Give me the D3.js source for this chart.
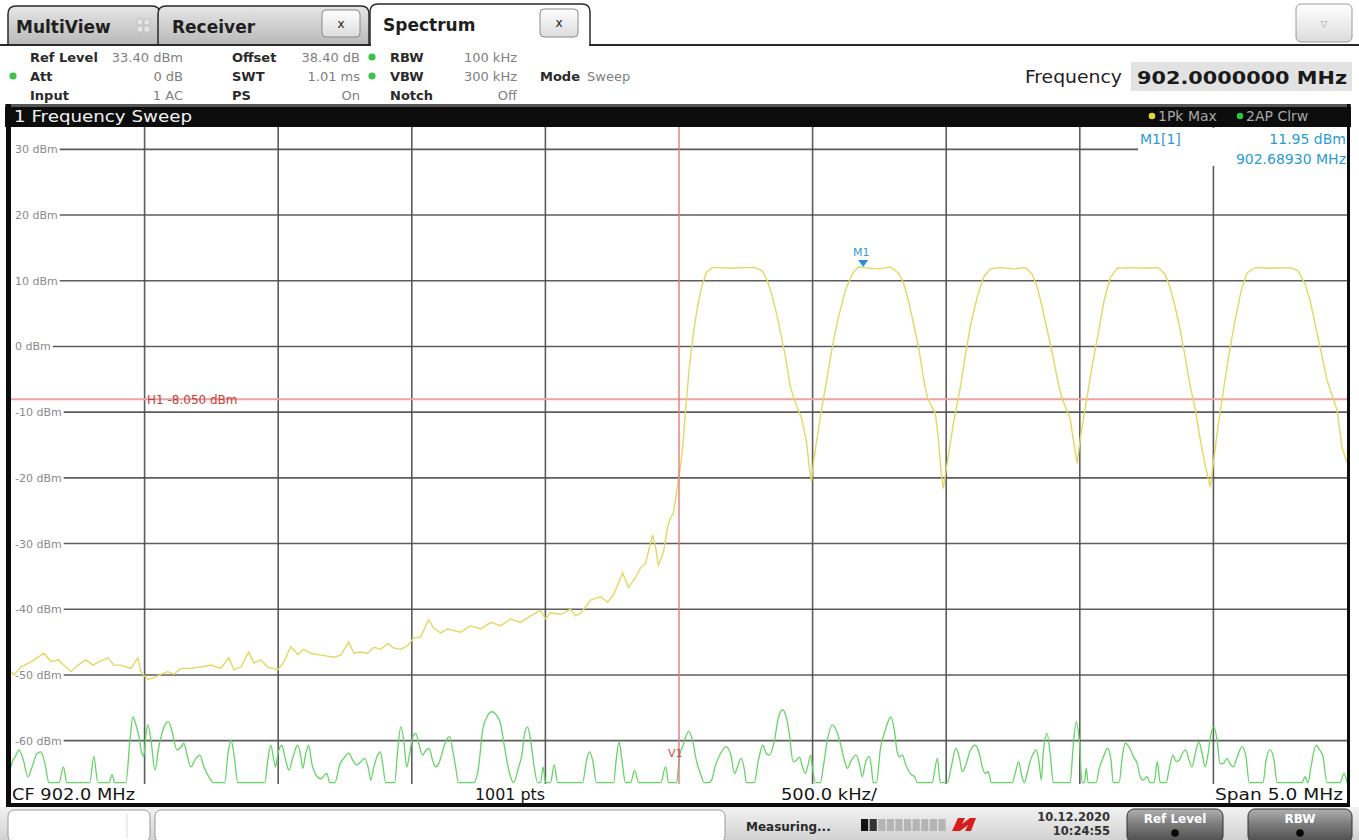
<!DOCTYPE html>
<html><head><meta charset="utf-8">
<script src="https://cdn.jsdelivr.net/npm/d3@7"></script>
<style>
html,body{margin:0;padding:0;background:#fff;overflow:hidden;}
svg{display:block;font-family:"DejaVu Sans",Verdana,sans-serif;}
</style></head><body>
<svg id="c" width="1359" height="840"></svg>
<script>
// ---------------- data ----------------
const yTicks = [30, 20, 10, 0, -10, -20, -30, -40, -50, -60];
const xGridMHz = [900.0, 900.5, 901.0, 901.5, 902.0, 902.5, 903.0, 903.5, 904.0];
const refLevel = 33.4, bottomLevel = -66.6;
const startMHz = 899.5, stopMHz = 904.5;
const h1Level = -8.05;
const v1MHz = 902.0;
const markerM1 = {f: 902.6893, level: 11.95};

// trace 1: Pk Max (yellow) [MHz, dBm]
const pkMaxTrace = [
[899.500,-49.5],[899.511,-50.0],[899.537,-48.8],[899.575,-48.0],[899.623,-46.7],[899.650,-48.0],[899.676,-47.7],[899.706,-48.8],[899.724,-49.5],[899.751,-48.5],[899.780,-47.7],[899.807,-48.5],[899.829,-48.0],[899.863,-47.4],[899.885,-48.5],[899.911,-48.5],[899.949,-49.0],[899.975,-47.4],[899.986,-49.5],[900.012,-50.7],[900.035,-50.4],[900.061,-49.9],[900.087,-49.5],[900.110,-49.9],[900.136,-49.0],[900.173,-49.0],[900.211,-48.8],[900.248,-48.5],[900.285,-49.0],[900.315,-47.4],[900.334,-49.2],[900.360,-48.8],[900.390,-46.5],[900.409,-48.2],[900.435,-47.7],[900.461,-48.8],[900.499,-49.2],[900.521,-48.0],[900.547,-45.7],[900.573,-46.9],[900.596,-46.1],[900.622,-46.7],[900.648,-46.9],[900.678,-47.1],[900.708,-47.3],[900.734,-47.0],[900.764,-45.0],[900.783,-46.7],[900.809,-46.5],[900.835,-46.7],[900.858,-45.8],[900.884,-46.1],[900.910,-45.2],[900.932,-45.9],[900.959,-46.1],[900.985,-45.5],[901.007,-44.4],[901.033,-44.2],[901.063,-41.6],[901.082,-42.9],[901.108,-43.6],[901.134,-43.0],[901.183,-43.5],[901.220,-42.5],[901.258,-43.0],[901.295,-42.0],[901.332,-42.5],[901.370,-41.5],[901.407,-42.0],[901.445,-41.0],[901.482,-40.2],[901.501,-41.5],[901.519,-40.5],[901.557,-40.8],[901.594,-40.0],[901.613,-41.0],[901.632,-40.6],[901.669,-38.6],[901.706,-38.1],[901.733,-38.9],[901.755,-37.8],[901.789,-34.5],[901.811,-36.7],[901.837,-35.2],[901.856,-33.7],[901.875,-33.0],[901.901,-28.7],[901.912,-30.5],[901.923,-33.3],[901.942,-31.3],[901.957,-27.5],[901.968,-26.1],[901.979,-25.4],[901.994,-21.4],[902.002,-19.3],[902.013,-15.8],[902.024,-10.0],[902.039,-3.0],[902.054,2.0],[902.069,6.0],[902.084,9.0],[902.103,11.3],[902.125,12.0],[902.155,12.0],[902.193,11.9],[902.249,12.0],[902.286,12.0],[902.312,11.5],[902.331,10.0],[902.350,7.5],[902.368,4.5],[902.383,1.5],[902.398,-1.5],[902.417,-6.2],[902.439,-9.0],[902.458,-10.8],[902.477,-14.5],[902.488,-18.5],[902.496,-20.6],
[902.503,-17.7],[902.529,-10.7],[902.555,-4.6],[902.574,0.0],[902.597,4.5],[902.623,8.6],[902.649,11.1],[902.671,12.1],[902.690,12.0],[902.716,11.9],[902.754,11.8],[902.791,12.1],[902.821,11.2],[902.840,9.7],[902.858,7.1],[902.877,3.6],[902.896,0.0],[902.914,-4.6],[902.929,-7.7],[902.948,-9.4],[902.959,-10.1],[902.970,-13.8],[902.982,-19.5],[902.989,-21.6],
[903.004,-17.7],[903.027,-11.7],[903.053,-6.2],[903.071,-1.5],[903.090,3.0],[903.116,7.5],[903.139,10.5],[903.165,11.8],[903.202,12.0],[903.258,11.8],[903.296,12.0],[903.322,11.0],[903.341,9.0],[903.359,6.0],[903.378,2.5],[903.397,-1.0],[903.416,-5.0],[903.434,-8.0],[903.449,-9.5],[903.464,-11.0],[903.475,-14.0],[903.490,-17.8],
[903.502,-14.0],[903.524,-8.5],[903.546,-3.0],[903.569,2.0],[903.591,7.0],[903.614,10.5],[903.640,11.9],[903.689,12.0],[903.745,11.9],[903.793,12.0],[903.819,11.0],[903.838,9.0],[903.857,6.0],[903.876,2.5],[903.894,-1.5],[903.913,-6.0],[903.932,-9.5],[903.950,-14.0],[903.969,-18.0],[903.988,-21.4],
[903.999,-18.0],[904.018,-12.0],[904.040,-6.0],[904.059,-1.0],[904.081,4.0],[904.104,8.5],[904.126,11.2],[904.156,12.0],[904.212,11.9],[904.287,12.0],[904.317,11.5],[904.343,9.5],[904.362,7.0],[904.380,3.5],[904.399,0.0],[904.425,-5.1],[904.448,-7.9],[904.463,-9.7],[904.481,-15.3],[904.500,-17.7]
];

// trace 2: AP Clrw (green) [MHz, dBm]
const apClrwTrace = [
[899.500,-64.0],[899.507,-63.0],[899.515,-62.5],[899.530,-61.4],[899.545,-62.8],[899.564,-65.5],[899.579,-64.0],[899.597,-62.0],[899.612,-61.7],[899.627,-63.5],[899.642,-66.4],
[899.680,-66.4],[899.696,-64.0],[899.709,-66.4],
[899.795,-66.4],[899.810,-62.4],[899.825,-66.4],
[899.867,-66.4],[899.878,-65.2],[899.889,-66.4],
[899.930,-66.4],[899.945,-60.0],[899.956,-56.4],[899.967,-57.5],[899.979,-59.4],[899.990,-62.0],[899.997,-62.4],[900.005,-59.0],[900.012,-57.6],[900.024,-60.0],[900.039,-64.5],[900.053,-61.0],[900.072,-58.0],[900.089,-57.1],[900.102,-58.5],[900.121,-61.4],[900.136,-61.0],[900.147,-60.4],[900.158,-62.0],[900.173,-64.0],[900.192,-62.7],[900.207,-62.2],[900.222,-64.0],[900.248,-66.0],[900.255,-66.4],
[900.300,-66.4],[900.312,-62.0],[900.323,-59.9],[900.334,-62.0],[900.349,-66.4],
[900.450,-66.4],[900.461,-63.0],[900.472,-60.7],[900.484,-63.0],[900.490,-64.0],[900.499,-62.0],[900.513,-60.7],[900.528,-63.0],[900.540,-64.5],[900.555,-62.5],[900.573,-60.7],[900.585,-62.5],[900.592,-64.2],[900.603,-62.0],[900.614,-60.7],[900.626,-63.5],[900.641,-65.2],[900.659,-65.8],[900.682,-65.0],[900.693,-66.4],
[900.712,-66.4],[900.730,-63.7],[900.749,-62.5],[900.764,-61.9],[900.779,-63.0],[900.794,-63.7],[900.809,-63.2],[900.824,-62.7],[900.839,-64.5],[900.846,-66.0],[900.858,-64.0],[900.872,-62.2],[900.882,-61.7],[900.891,-63.5],[900.902,-66.4],
[900.936,-66.4],[900.947,-61.5],[900.959,-57.9],[900.970,-60.0],[900.981,-64.0],[900.992,-62.0],[901.003,-59.5],[901.015,-58.9],[901.026,-60.5],[901.041,-62.2],[901.052,-61.5],[901.065,-61.2],[901.078,-63.0],[901.089,-64.0],[901.101,-63.5],[901.116,-61.5],[901.131,-59.8],[901.142,-59.4],[901.153,-61.5],[901.164,-64.0],[901.175,-66.4],
[901.232,-66.4],[901.250,-64.0],[901.265,-58.4],[901.280,-56.5],[901.299,-55.6],[901.318,-56.2],[901.332,-57.4],[901.347,-61.0],[901.366,-65.0],[901.381,-66.4],
[901.400,-64.0],[901.411,-62.4],[901.422,-59.0],[901.433,-57.9],[901.445,-60.0],[901.458,-64.0],[901.471,-66.4],
[901.482,-66.4],[901.491,-64.0],[901.501,-66.4],
[901.519,-66.4],[901.533,-63.7],[901.546,-66.4],
[901.639,-66.4],[901.654,-63.0],[901.665,-61.7],[901.677,-63.0],[901.691,-66.4],
[901.755,-66.4],[901.766,-62.5],[901.776,-60.2],[901.785,-62.5],[901.800,-66.4],
[901.819,-66.4],[901.834,-64.5],[901.849,-66.4],
[901.931,-66.4],[901.950,-64.0],[901.961,-66.4],
[901.991,-66.4],[902.002,-62.4],[902.017,-60.5],[902.036,-58.6],[902.051,-60.0],[902.065,-63.0],[902.080,-65.0],[902.095,-66.4],
[902.110,-66.4],[902.122,-66.0],[902.135,-64.0],[902.155,-62.0],[902.176,-60.9],[902.193,-62.0],[902.208,-65.0],[902.219,-64.0],[902.233,-62.7],[902.245,-64.5],[902.252,-66.4],
[902.282,-66.4],[902.297,-63.0],[902.314,-60.7],[902.327,-62.0],[902.338,-62.2],[902.357,-60.0],[902.372,-56.5],[902.387,-55.3],[902.402,-56.5],[902.413,-59.0],[902.427,-63.2],[902.439,-63.0],[902.451,-62.5],[902.462,-64.0],[902.473,-65.0],[902.481,-64.0],[902.493,-62.2],[902.499,-64.0],[902.511,-66.4],
[902.529,-66.4],[902.540,-64.0],[902.555,-60.0],[902.574,-57.6],[902.589,-58.5],[902.604,-60.4],[902.619,-63.0],[902.630,-64.2],[902.645,-63.0],[902.663,-62.2],[902.675,-63.5],[902.686,-65.5],[902.697,-63.5],[902.712,-62.4],[902.720,-64.0],[902.727,-66.4],
[902.739,-66.4],[902.754,-61.2],[902.772,-58.4],[902.793,-56.4],[902.806,-58.5],[902.817,-61.8],[902.825,-62.5],[902.837,-62.2],[902.847,-63.5],[902.858,-64.5],[902.870,-65.2],[902.882,-65.5],[902.892,-66.4],
[902.948,-66.4],[902.957,-64.5],[902.967,-62.7],[902.978,-66.4],
[903.004,-66.4],[903.019,-64.0],[903.036,-61.2],[903.049,-62.5],[903.060,-64.7],[903.075,-63.5],[903.090,-61.5],[903.109,-60.7],[903.124,-62.0],[903.135,-64.0],[903.146,-65.0],[903.157,-64.7],[903.169,-66.4],
[903.247,-66.4],[903.258,-65.0],[903.271,-63.2],[903.281,-65.0],[903.292,-66.4],[903.303,-65.0],[903.315,-63.0],[903.326,-62.0],[903.337,-61.4],[903.348,-63.5],[903.356,-66.0],[903.363,-62.0],[903.377,-58.9],[903.389,-62.0],[903.401,-66.4],
[903.464,-66.4],[903.475,-61.0],[903.487,-57.1],[903.498,-60.0],[903.509,-66.4],
[903.517,-66.4],[903.524,-64.2],[903.531,-66.4],
[903.561,-66.4],[903.573,-64.2],[903.588,-62.5],[903.604,-61.2],[903.617,-63.0],[903.625,-66.4],
[903.647,-66.4],[903.659,-62.5],[903.670,-60.4],[903.685,-61.0],[903.700,-62.4],[903.715,-63.5],[903.726,-65.5],[903.737,-66.0],[903.751,-65.5],[903.763,-66.4],
[903.778,-66.4],[903.790,-63.2],[903.801,-66.4],
[903.823,-66.4],[903.834,-64.5],[903.848,-62.2],[903.861,-63.2],[903.872,-63.0],[903.883,-62.0],[903.896,-61.4],[903.909,-63.0],[903.920,-64.0],[903.932,-62.0],[903.945,-60.2],[903.958,-62.0],[903.969,-64.0],[903.980,-62.0],[903.991,-59.0],[904.002,-57.9],[904.014,-60.0],[904.025,-63.5],[904.036,-63.5],[904.051,-62.7],[904.062,-63.5],[904.074,-64.0],[904.089,-62.5],[904.107,-60.9],[904.122,-62.5],[904.134,-66.4],
[904.186,-66.4],[904.197,-63.0],[904.212,-61.4],[904.227,-63.0],[904.238,-66.4],
[904.332,-66.4],[904.343,-65.5],[904.354,-66.4],[904.365,-64.0],[904.384,-60.7],[904.399,-61.5],[904.410,-62.4],[904.425,-66.4],
[904.474,-66.4],[904.489,-65.0],[904.500,-66.4]
];

// ---------------- drawing ----------------
const W = 1359, H = 840;
const P = {left: 11, right: 1347, top: 127, bottom: 784};
const svg = d3.select("#c");
const defs = svg.append("defs");
function lg(id, stops) {
  const g = defs.append("linearGradient").attr("id", id).attr("x1", 0).attr("y1", 0).attr("x2", 0).attr("y2", 1);
  stops.forEach(([o, c]) => g.append("stop").attr("offset", o).attr("stop-color", c));
}
lg("tabGray", [[0, "#e6e6e6"], [1, "#b8b8b8"]]);
lg("btnWhite", [[0, "#ffffff"], [1, "#dcdcdc"]]);
lg("btnDark", [[0, "#b0b0b0"], [0.45, "#7c7c7c"], [1, "#4a4a4a"]]);
lg("statusBg", [[0, "#f2f2f2"], [1, "#d2d2d2"]]);
defs.append("clipPath").attr("id", "plotClip").append("rect")
  .attr("x", P.left).attr("y", P.top).attr("width", P.right - P.left).attr("height", P.bottom - P.top);

const x = d3.scaleLinear().domain([startMHz, stopMHz]).range([P.left, P.right]);
const y = d3.scaleLinear().domain([bottomLevel, refLevel]).range([P.bottom, P.top]);

svg.append("rect").attr("width", W).attr("height", H).attr("fill", "#fff");

// ---- tab bar ----
function tabPath(x0, x1, y0, y1, r) {
  return `M${x0},${y1}V${y0 + r}Q${x0},${y0} ${x0 + r},${y0}H${x1 - r}Q${x1},${y0} ${x1},${y0 + r}V${y1}`;
}
svg.append("path").attr("d", tabPath(8, 160, 6, 45, 8)).attr("fill", "url(#tabGray)").attr("stroke", "#2a2a2a").attr("stroke-width", 1.5);
svg.append("path").attr("d", tabPath(158, 369, 6, 45, 8)).attr("fill", "url(#tabGray)").attr("stroke", "#2a2a2a").attr("stroke-width", 1.5);
svg.append("path").attr("d", tabPath(370, 590, 4, 45, 8)).attr("fill", "#fff").attr("stroke", "#2a2a2a").attr("stroke-width", 1.5);
svg.append("line").attr("x1", 0).attr("x2", 371).attr("y1", 45).attr("y2", 45).attr("stroke", "#2a2a2a").attr("stroke-width", 2);
svg.append("line").attr("x1", 589).attr("x2", W).attr("y1", 45).attr("y2", 45).attr("stroke", "#2a2a2a").attr("stroke-width", 2);
const tabTexts = [["MultiView", 16, 33], ["Receiver", 172, 33], ["Spectrum", 383, 31]];
tabTexts.forEach(([t, tx, ty]) => svg.append("text").attr("x", tx).attr("y", ty).text(t)
  .attr("font-size", 17).attr("font-weight", "bold").attr("fill", "#1e1e1e"));
// multiview grid icon
[[137, 19], [144, 19], [137, 26], [144, 26]].forEach(([gx, gy]) =>
  svg.append("rect").attr("x", gx).attr("y", gy).attr("width", 6).attr("height", 6).attr("rx", 1)
    .attr("fill", "#e4e4e4").attr("stroke", "#b8b8b8").attr("stroke-width", 0.8));
// close buttons
[[322, 10, 38, 27], [540, 9, 38, 28]].forEach(([bx, by, bw, bh]) => {
  svg.append("rect").attr("x", bx).attr("y", by).attr("width", bw).attr("height", bh).attr("rx", 4)
    .attr("fill", "url(#btnWhite)").attr("stroke", "#8a8a8a");
  svg.append("text").attr("x", bx + bw / 2).attr("y", by + bh / 2 + 4).attr("text-anchor", "middle")
    .attr("font-size", 12).attr("fill", "#222").text("x");
});
// dropdown
svg.append("rect").attr("x", 1296).attr("y", 4).attr("width", 56).attr("height", 38).attr("rx", 5)
  .attr("fill", "url(#btnWhite)").attr("stroke", "#9a9a9a");
svg.append("text").attr("x", 1324).attr("y", 27).attr("text-anchor", "middle").attr("font-size", 9).attr("fill", "#999").text("▽");

// ---- header info ----
const rowsY = [62, 81, 100];
const col1 = [["Ref Level", "33.40 dBm"], ["Att", "0 dB"], ["Input", "1 AC"]];
const col2 = [["Offset", "38.40 dB"], ["SWT", "1.01 ms"], ["PS", "On"]];
const col3 = [["RBW", "100 kHz"], ["VBW", "300 kHz"], ["Notch", "Off"]];
function headerCol(items, lx, vx) {
  items.forEach(([l, v], i) => {
    svg.append("text").attr("x", lx).attr("y", rowsY[i]).attr("font-size", 13).attr("font-weight", "bold").attr("fill", "#2a2a2a").text(l);
    svg.append("text").attr("x", vx).attr("y", rowsY[i]).attr("text-anchor", "end").attr("font-size", 13).attr("fill", "#808080").text(v);
  });
}
headerCol(col1, 30, 183);
headerCol(col2, 232, 360);
headerCol(col3, 390, 517);
[[13, 76], [372, 57], [372, 76]].forEach(([cx, cy]) =>
  svg.append("circle").attr("cx", cx).attr("cy", cy).attr("r", 3.6).attr("fill", "#3cc24a"));
svg.append("text").attr("x", 540).attr("y", 81).attr("font-size", 13).attr("font-weight", "bold").attr("fill", "#2a2a2a").text("Mode");
svg.append("text").attr("x", 587).attr("y", 81).attr("font-size", 13).attr("fill", "#808080").text("Sweep");
svg.append("text").attr("x", 1025).attr("y", 83).attr("font-size", 18).attr("font-family", "'DejaVu Sans Condensed','DejaVu Sans',sans-serif")
  .attr("fill", "#222").attr("textLength", 97).attr("lengthAdjust", "spacingAndGlyphs").text("Frequency");
svg.append("rect").attr("x", 1131).attr("y", 62).attr("width", 221).attr("height", 29).attr("fill", "#e2e2e2");
svg.append("text").attr("x", 1137).attr("y", 84).attr("font-size", 18).attr("font-weight", "bold").attr("fill", "#1a1a1a")
  .attr("textLength", 210).attr("lengthAdjust", "spacingAndGlyphs").text("902.0000000 MHz");

// ---- frame / title bar ----
svg.append("rect").attr("x", 5).attr("y", 104).attr("width", 1346).attr("height", 23).attr("fill", "#0c0c0c");
svg.append("rect").attr("x", 5).attr("y", 104).attr("width", 1346).attr("height", 3).attr("fill", "#555");
svg.append("text").attr("x", 14).attr("y", 122).attr("font-size", 16).attr("fill", "#f2f2f2")
  .attr("textLength", 178).attr("lengthAdjust", "spacingAndGlyphs").text("1 Frequency Sweep");
svg.append("circle").attr("cx", 1152).attr("cy", 116).attr("r", 3.3).attr("fill", "#e8d630");
svg.append("text").attr("x", 1158).attr("y", 121).attr("font-size", 14).attr("fill", "#a8a8a8").text("1Pk Max");
svg.append("circle").attr("cx", 1240).attr("cy", 116).attr("r", 3.3).attr("fill", "#34c03c");
svg.append("text").attr("x", 1246).attr("y", 121).attr("font-size", 14).attr("fill", "#a8a8a8").text("2AP Clrw");

// left / right borders
svg.append("rect").attr("x", 6).attr("y", 104).attr("width", 5).attr("height", 704).attr("fill", "#0c0c0c");
svg.append("rect").attr("x", 1347).attr("y", 104).attr("width", 3).attr("height", 704).attr("fill", "#0c0c0c");

// ---- grid ----
const grid = svg.append("g");
const yAxis = d3.axisRight(y).tickValues(yTicks).tickSize(0).tickPadding(0).tickFormat(d => `${d} dBm`);
const yAx = svg.append("g").attr("transform", `translate(15,0)`).call(yAxis);
yAx.select(".domain").remove();
yAx.selectAll("text").attr("font-size", 11).attr("fill", "#8a8a8a").attr("font-family", "'DejaVu Sans',sans-serif").attr("dy", "0.32em");
const labelEnds = {};
yAx.selectAll(".tick text").each(function (d) { labelEnds[d] = 15 + this.getComputedTextLength() + 2; });
yTicks.forEach(t => {
  grid.append("line").attr("x1", labelEnds[t]).attr("x2", P.right).attr("y1", y(t)).attr("y2", y(t))
    .attr("stroke", "#4c4c4c").attr("stroke-width", 1.6).attr("opacity", 0.9);
});
xGridMHz.filter(f => f !== v1MHz).forEach(f => {
  grid.append("line").attr("x1", x(f)).attr("x2", x(f)).attr("y1", P.top).attr("y2", P.bottom)
    .attr("stroke", "#4c4c4c").attr("stroke-width", 1.6).attr("opacity", 0.9);
});
// marker info box mask
grid.append("rect").attr("x", 1138).attr("y", P.top + 1).attr("width", P.right - 1138).attr("height", 25).attr("fill", "#fff");
grid.append("rect").attr("x", 1198).attr("y", P.top + 25).attr("width", P.right - 1198).attr("height", 14).attr("fill", "#fff");
yAx.raise();

// ---- H1 line ----
svg.append("line").attr("x1", P.left).attr("x2", P.right).attr("y1", y(h1Level)).attr("y2", y(h1Level))
  .attr("stroke", "#e9a3a3").attr("stroke-width", 2);
svg.append("text").attr("x", 147).attr("y", y(h1Level) + 5).attr("font-size", 12).attr("fill", "#c83c3c").text("H1  -8.050 dBm");

// ---- traces ----
const lineLin = d3.line().x(d => x(d[0])).y(d => y(d[1]));
const lineSmooth = d3.line().x(d => x(d[0])).y(d => y(d[1])).curve(d3.curveMonotoneX);
const tg = svg.append("g").attr("clip-path", "url(#plotClip)");
tg.append("path").datum(apClrwTrace).attr("d", lineSmooth).attr("fill", "none").attr("stroke", "#66d466").attr("stroke-width", 1.3);
tg.append("path").datum(pkMaxTrace).attr("d", lineLin).attr("fill", "none").attr("stroke", "#e2d862").attr("stroke-width", 1.4);

// ---- V1 line ----
svg.append("line").attr("x1", x(v1MHz)).attr("x2", x(v1MHz)).attr("y1", P.top).attr("y2", P.bottom)
  .attr("stroke", "#e27a7a").attr("stroke-width", 1.4);
svg.append("text").attr("x", x(v1MHz) - 11).attr("y", 757).attr("font-size", 11).attr("fill", "#d04848").text("V1");

// ---- marker M1 ----
const mx = x(markerM1.f), my = y(markerM1.level);
svg.append("path").attr("d", `M${mx - 5},${my - 8}L${mx + 5},${my - 8}L${mx},${my - 1}Z`).attr("fill", "#2a8fd2");
svg.append("text").attr("x", mx - 2).attr("y", my - 12).attr("text-anchor", "middle").attr("font-size", 11).attr("fill", "#3a9ad0").text("M1");
svg.append("text").attr("x", 1140).attr("y", 144).attr("font-size", 14).attr("fill", "#2d9bd3").text("M1[1]");
svg.append("text").attr("x", 1346).attr("y", 144).attr("text-anchor", "end").attr("font-size", 14).attr("fill", "#2d9bd3").text("11.95 dBm");
svg.append("text").attr("x", 1346).attr("y", 164).attr("text-anchor", "end").attr("font-size", 14).attr("fill", "#2d9bd3").text("902.68930 MHz");

// ---- bottom scale bar ----
svg.append("rect").attr("x", 11).attr("y", P.bottom + 1).attr("width", 1336).attr("height", 18).attr("fill", "#fff");
const bfont = "'DejaVu Sans Condensed','DejaVu Sans',sans-serif";
[["CF 902.0 MHz", 12, 123], ["1001 pts", 475, 70], ["500.0 kHz/", 781, 96], ["Span 5.0 MHz", 1215, 128]]
  .forEach(([t, tx, tl]) => svg.append("text").attr("x", tx).attr("y", 800).attr("font-size", 15).attr("font-family", bfont)
    .attr("fill", "#151515").attr("textLength", tl).attr("lengthAdjust", "spacingAndGlyphs").text(t));
svg.append("rect").attr("x", 6).attr("y", 803).attr("width", 1344).attr("height", 4).attr("fill", "#0c0c0c");

// ---- status bar ----
svg.append("rect").attr("x", 0).attr("y", 807).attr("width", W).attr("height", 33).attr("fill", "url(#statusBg)");
svg.append("rect").attr("x", 8).attr("y", 810).attr("width", 142).attr("height", 32).attr("rx", 6).attr("fill", "#fff").attr("stroke", "#9a9a9a");
svg.append("line").attr("x1", 127).attr("x2", 127).attr("y1", 813).attr("y2", 838).attr("stroke", "#ddd");
svg.append("rect").attr("x", 155).attr("y", 810).attr("width", 570).attr("height", 32).attr("rx", 6).attr("fill", "#fff").attr("stroke", "#9a9a9a");
svg.append("text").attr("x", 746).attr("y", 831).attr("font-size", 12).attr("font-weight", "bold").attr("fill", "#2a2a2a").text("Measuring...");
const segs = [0, 1, 2, 3, 4, 5, 6, 7, 8, 9];
segs.forEach(i => svg.append("rect").attr("x", 861 + i * 8.6).attr("y", 819).attr("width", 7.2).attr("height", 12)
  .attr("fill", i < 2 ? (i === 0 ? "#111" : "#333") : "#b4b4b4"));
svg.append("path").attr("d", "M952,831 L958,818 L965,818 L962,824 L970,818 L976,818 L971,831 L965,831 L968,825 L960,831 Z").attr("fill", "#d81c1c");
svg.append("text").attr("x", 1110).attr("y", 821).attr("text-anchor", "end").attr("font-size", 11.5).attr("font-weight", "bold").attr("fill", "#333").text("10.12.2020");
svg.append("text").attr("x", 1110).attr("y", 835).attr("text-anchor", "end").attr("font-size", 11.5).attr("font-weight", "bold").attr("fill", "#333").text("10:24:55");
[["Ref Level", 1127, 96], ["RBW", 1248, 104]].forEach(([t, bx, bw]) => {
  svg.append("rect").attr("x", bx).attr("y", 809).attr("width", bw).attr("height", 34).attr("rx", 7)
    .attr("fill", "url(#btnDark)").attr("stroke", "#333");
  svg.append("text").attr("x", bx + bw / 2).attr("y", 823).attr("text-anchor", "middle").attr("font-size", 12)
    .attr("font-weight", "bold").attr("fill", "#fff").text(t);
  svg.append("circle").attr("cx", bx + bw / 2).attr("cy", 833).attr("r", 3.8).attr("fill", "#080808");
});
</script>
</body></html>
